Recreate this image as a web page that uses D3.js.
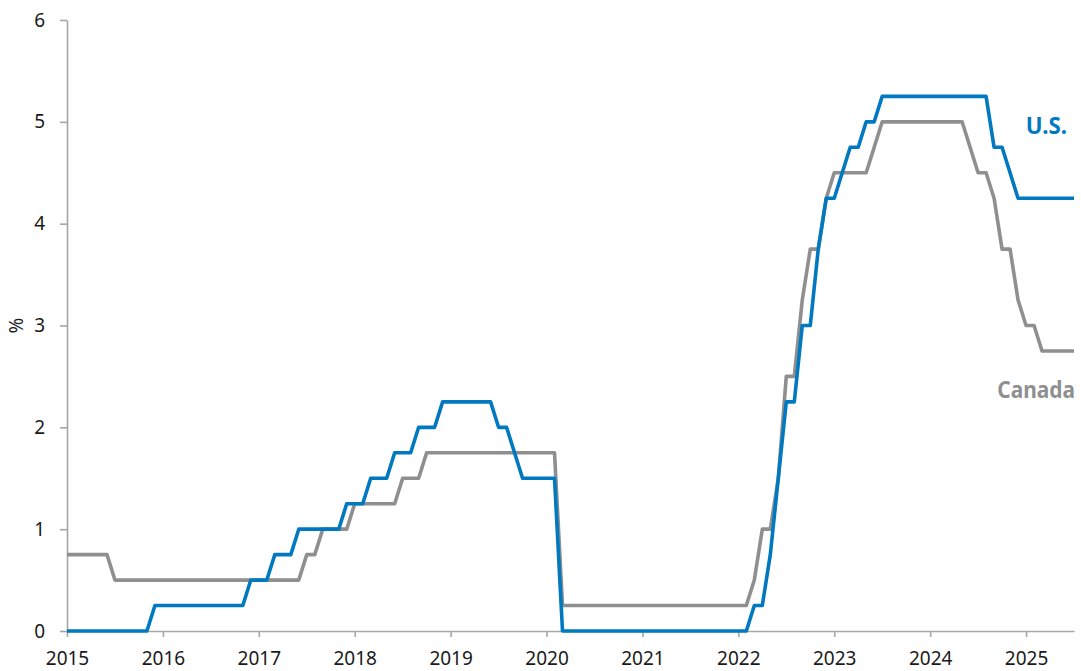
<!DOCTYPE html>
<html lang="en">
<head>
    <meta charset="UTF-8">
    <title>Policy rates: U.S. vs Canada</title>
    <style>
        body {
            margin: 0;
            padding: 0;
            background-color: #ffffff;
        }
        svg text {
            font-family: "Noto Sans", "Open Sans", Arial, sans-serif;
        }
        .axis path, .axis line {
            stroke: #a6a6a6;
            stroke-width: 1.6px;
        }
        .axis text {
            fill: #1a1a1a;
            font-size: 19px;
        }
    </style>
    <script src="https://d3js.org/d3.v7.min.js"></script>
</head>
<body>
    <div id="chart"></div>

    <script>
        // Monthly end-of-month policy rates, Jan 2015 .. Jul 2025
        const years = [2015, 2016, 2017, 2018, 2019, 2020, 2021, 2022, 2023, 2024, 2025];
        const yTicks = [0, 1, 2, 3, 4, 5, 6];

        // U.S. fed funds target (lower bound), %
        const usRate = [
            0, 0, 0, 0, 0, 0, 0, 0, 0, 0, 0, 0.25,                              // 2015
            0.25, 0.25, 0.25, 0.25, 0.25, 0.25, 0.25, 0.25, 0.25, 0.25, 0.25, 0.5, // 2016
            0.5, 0.5, 0.75, 0.75, 0.75, 1, 1, 1, 1, 1, 1, 1.25,                 // 2017
            1.25, 1.25, 1.5, 1.5, 1.5, 1.75, 1.75, 1.75, 2, 2, 2, 2.25,         // 2018
            2.25, 2.25, 2.25, 2.25, 2.25, 2.25, 2, 2, 1.75, 1.5, 1.5, 1.5,      // 2019
            1.5, 1.5, 0, 0, 0, 0, 0, 0, 0, 0, 0, 0,                             // 2020
            0, 0, 0, 0, 0, 0, 0, 0, 0, 0, 0, 0,                                 // 2021
            0, 0, 0.25, 0.25, 0.75, 1.5, 2.25, 2.25, 3, 3, 3.75, 4.25,          // 2022
            4.25, 4.5, 4.75, 4.75, 5, 5, 5.25, 5.25, 5.25, 5.25, 5.25, 5.25,    // 2023
            5.25, 5.25, 5.25, 5.25, 5.25, 5.25, 5.25, 5.25, 4.75, 4.75, 4.5, 4.25, // 2024
            4.25, 4.25, 4.25, 4.25, 4.25, 4.25, 4.25                            // 2025
        ];

        // Bank of Canada overnight rate target, %
        const caRate = [
            0.75, 0.75, 0.75, 0.75, 0.75, 0.75, 0.5, 0.5, 0.5, 0.5, 0.5, 0.5,   // 2015
            0.5, 0.5, 0.5, 0.5, 0.5, 0.5, 0.5, 0.5, 0.5, 0.5, 0.5, 0.5,         // 2016
            0.5, 0.5, 0.5, 0.5, 0.5, 0.5, 0.75, 0.75, 1, 1, 1, 1,               // 2017
            1.25, 1.25, 1.25, 1.25, 1.25, 1.25, 1.5, 1.5, 1.5, 1.75, 1.75, 1.75, // 2018
            1.75, 1.75, 1.75, 1.75, 1.75, 1.75, 1.75, 1.75, 1.75, 1.75, 1.75, 1.75, // 2019
            1.75, 1.75, 0.25, 0.25, 0.25, 0.25, 0.25, 0.25, 0.25, 0.25, 0.25, 0.25, // 2020
            0.25, 0.25, 0.25, 0.25, 0.25, 0.25, 0.25, 0.25, 0.25, 0.25, 0.25, 0.25, // 2021
            0.25, 0.25, 0.5, 1, 1, 1.5, 2.5, 2.5, 3.25, 3.75, 3.75, 4.25,       // 2022
            4.5, 4.5, 4.5, 4.5, 4.5, 4.75, 5, 5, 5, 5, 5, 5,                    // 2023
            5, 5, 5, 5, 5, 4.75, 4.5, 4.5, 4.25, 3.75, 3.75, 3.25,              // 2024
            3, 3, 2.75, 2.75, 2.75, 2.75, 2.75                                  // 2025
        ];

        const width = 1081, height = 671;
        const margin = { top: 20, right: 7, bottom: 40, left: 67 };

        const svg = d3.select("#chart")
            .append("svg")
            .attr("width", width)
            .attr("height", height);

        const x = d3.scaleLinear()
            .domain([0, usRate.length - 1])
            .range([margin.left, width - margin.right]);

        const y = d3.scaleLinear()
            .domain([0, 6])
            .range([height - margin.bottom, margin.top]);

        // x axis: one tick per January
        svg.append("g")
            .attr("class", "axis")
            .attr("transform", `translate(0,${height - margin.bottom})`)
            .call(d3.axisBottom(x)
                .tickValues(years.map((yr, i) => i * 12))
                .tickFormat((d, i) => years[i])
                .tickSize(6)
                .tickSizeOuter(0)
                .tickPadding(15));

        // y axis
        svg.append("g")
            .attr("class", "axis")
            .attr("transform", `translate(${margin.left},0)`)
            .call(d3.axisLeft(y)
                .tickValues(yTicks)
                .tickFormat(d3.format("d"))
                .tickSize(7)
                .tickSizeOuter(0)
                .tickPadding(15));

        svg.append("text")
            .attr("transform", `translate(23,${y(3)}) rotate(-90)`)
            .attr("text-anchor", "middle")
            .attr("font-size", 19)
            .attr("fill", "#1a1a1a")
            .text("%");

        const line = d3.line()
            .x((d, i) => x(i))
            .y(d => y(d));

        svg.append("path")
            .datum(caRate)
            .attr("fill", "none")
            .attr("stroke", "#8f8f8f")
            .attr("stroke-width", 3.6)
            .attr("stroke-linejoin", "round")
            .attr("d", line);

        svg.append("path")
            .datum(usRate)
            .attr("fill", "none")
            .attr("stroke", "#0079c1")
            .attr("stroke-width", 3.6)
            .attr("stroke-linejoin", "round")
            .attr("d", line);

        // series labels, squeezed horizontally for a condensed look
        svg.append("text")
            .attr("transform", "translate(1067,134) scale(0.97,1)")
            .attr("text-anchor", "end")
            .attr("font-size", 23)
            .attr("font-weight", "bold")
            .attr("fill", "#0079c1")
            .text("U.S.");

        svg.append("text")
            .attr("transform", "translate(1075,398) scale(0.87,1)")
            .attr("text-anchor", "end")
            .attr("font-size", 24)
            .attr("font-weight", "bold")
            .attr("fill", "#8f8f8f")
            .text("Canada");
    </script>
</body>
</html>
